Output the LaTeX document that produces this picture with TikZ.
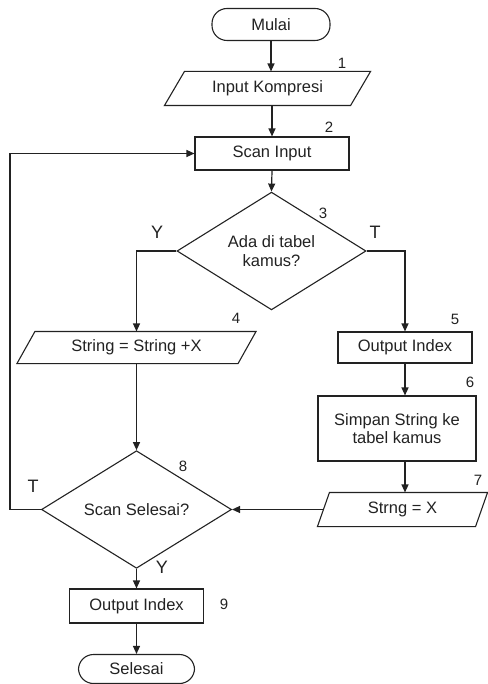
\documentclass[tikz,border=0pt]{standalone}
\usepackage{fontspec}
\setmainfont{Liberation Sans}
\usetikzlibrary{shapes.geometric,arrows.meta,calc}
\definecolor{ink}{HTML}{222222}
\tikzset{
  base/.style={draw=ink, line width=1.1pt, text=ink, inner sep=0pt, align=center,
    font=\fontsize{16.5}{18.5}\selectfont},
  term/.style={base, rounded corners=15pt},
  procbox/.style={base, rectangle},
  parabody/.style={base, draw=none, rectangle},
  decision/.style={base, diamond},
  conn/.style={draw=ink, line width=1.2pt, -{Triangle[length=8pt,width=7pt]}},
  num/.style={text=ink, inner sep=0pt, font=\fontsize{15}{15}\selectfont},
  yt/.style={text=ink, inner sep=0pt, font=\fontsize{18}{18}\selectfont},
}
\newcommand{\drawpara}[2]{%
  \draw[draw=ink, line width=1.1pt]
    ($(#1.north west)+(#2,0)$) -- ($(#1.north east)+(#2,0)$) --
    ($(#1.south east)-(#2,0)$) -- ($(#1.south west)-(#2,0)$) -- cycle;}
\begin{document}
\begin{tikzpicture}[x=1pt,y=-1pt]
\useasboundingbox (0,0) rectangle (487,684);

\node[term, minimum width=118pt, minimum height=32pt] (mulai) at (271,24.5) {Mulai};
\node[parabody, minimum width=185pt, minimum height=33pt] (in) at (267.5,88.5) {Input Kompresi};
\drawpara{in}{10}
\node[procbox, minimum width=154pt, minimum height=33pt] (scan) at (272,153.5) {Scan Input};
\node[decision, minimum width=189pt, minimum height=95pt] (d3) at (271.5,251) {Ada di tabel\\kamus?};
\node[parabody, minimum width=220pt, minimum height=31pt] (str) at (136.5,347.5) {String = String +X};
\drawpara{str}{9}
\node[procbox, minimum width=134pt, minimum height=31pt] (o5) at (405,347.5) {Output Index};
\node[procbox, minimum width=158pt, minimum height=65pt] (s6) at (397,428.5) {Simpan String ke\\tabel kamus};
\node[parabody, minimum width=157pt, minimum height=33pt] (x7) at (402.5,509.5) {Strng = X};
\drawpara{x7}{6}
\node[decision, minimum width=190pt, minimum height=95pt] (d8) at (136.5,509.5) {Scan Selesai?};
\node[procbox, minimum width=134pt, minimum height=34pt] (o9) at (136.5,606) {Output Index};
\node[term, minimum width=116pt, minimum height=29pt] (sel) at (136.5,669) {Selesai};

\coordinate (lp) at (10,509.5);

\draw[conn] (mulai.south) -- (mulai.south |- in.north);
\draw[conn] (in.south -| scan) -- (scan.north);
\draw[conn] (scan.south) -- (d3.north);
\draw[conn] (d3.west) -| (str.north);
\draw[conn] (d3.east) -| (o5.north);
\draw[conn] (o5.south) -- (o5.south |- s6.north);
\draw[conn] (s6.south -| o5) -- (x7.north -| o5);
\draw[conn] (x7.west) -- (d8.east);
\draw[conn] (str.south) -- (d8.north);
\draw[conn] (d8.west) -- (lp) |- (scan.west);
\draw[conn] (d8.south) -- (o9.north);
\draw[conn] (o9.south) -- (sel.north);

\node[num] (n1) at (342,63) {1};
\node[num] (n2) at (329,127) {2};
\node[num] (n3) at (323,213) {3};
\node[num] (n4) at (236,318) {4};
\node[num] (n5) at (455,319) {5};
\node[num] (n6) at (470,382) {6};
\node[num] (n7) at (478,480) {7};
\node[num] (n8) at (183,466) {8};
\node[num] (n9) at (224,604) {9};
\node[yt] (y3) at (157,232) {Y};
\node[yt] (t3) at (375,232) {T};
\node[yt] (t8) at (33,486) {T};
\node[yt] (y8) at (162,567) {Y};
\end{tikzpicture}
\end{document}
